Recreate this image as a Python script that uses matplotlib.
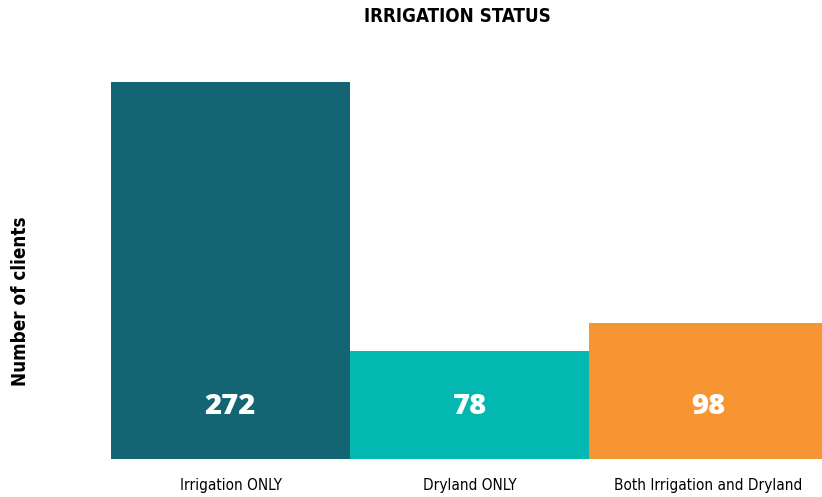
import matplotlib.pyplot as plt

# data
categories = ['Irrigation ONLY', 'Dryland ONLY', 'Both Irrigation and Dryland']
clients = [272, 78, 98]
colors = ['#136574', '#03B8B0', '#F69532']

fig = plt.figure(figsize=(8.22, 4.97), dpi=100)
W, H = 822, 497
ax = fig.add_axes([111 / W, 38 / H, 711 / W, 377 / H])

x = range(len(categories))
ax.bar(x, clients, width=1.0, color=colors)
ax.set_xlim(-0.5, -0.5 + 711 / 239)
ax.set_ylim(0, 272)

for i, v in enumerate(clients):
    ax.text(i, 38, str(v), ha='center', va='center', color='white',
            fontsize=21, fontweight='heavy', family=['Open Sans', 'DejaVu Sans'])

ax.set_xticks(list(x))
ax.set_xticklabels(categories, family='DejaVu Sans', stretch='condensed', fontsize=11)
ax.tick_params(axis='x', length=0, pad=14)
ax.set_yticks([])
for s in ax.spines.values():
    s.set_visible(False)

fig.text(457 / W, 1 - 17 / H, 'IRRIGATION STATUS', ha='center', va='center',
         fontsize=13.5, fontweight='bold', family='DejaVu Sans', stretch='condensed')
fig.text(20 / W, 1 - 301 / H, 'Number of clients', ha='center', va='center',
         rotation=90, fontsize=13.5, fontweight='bold', family='DejaVu Sans', stretch='condensed')

fig.savefig('out.png', dpi=100)
